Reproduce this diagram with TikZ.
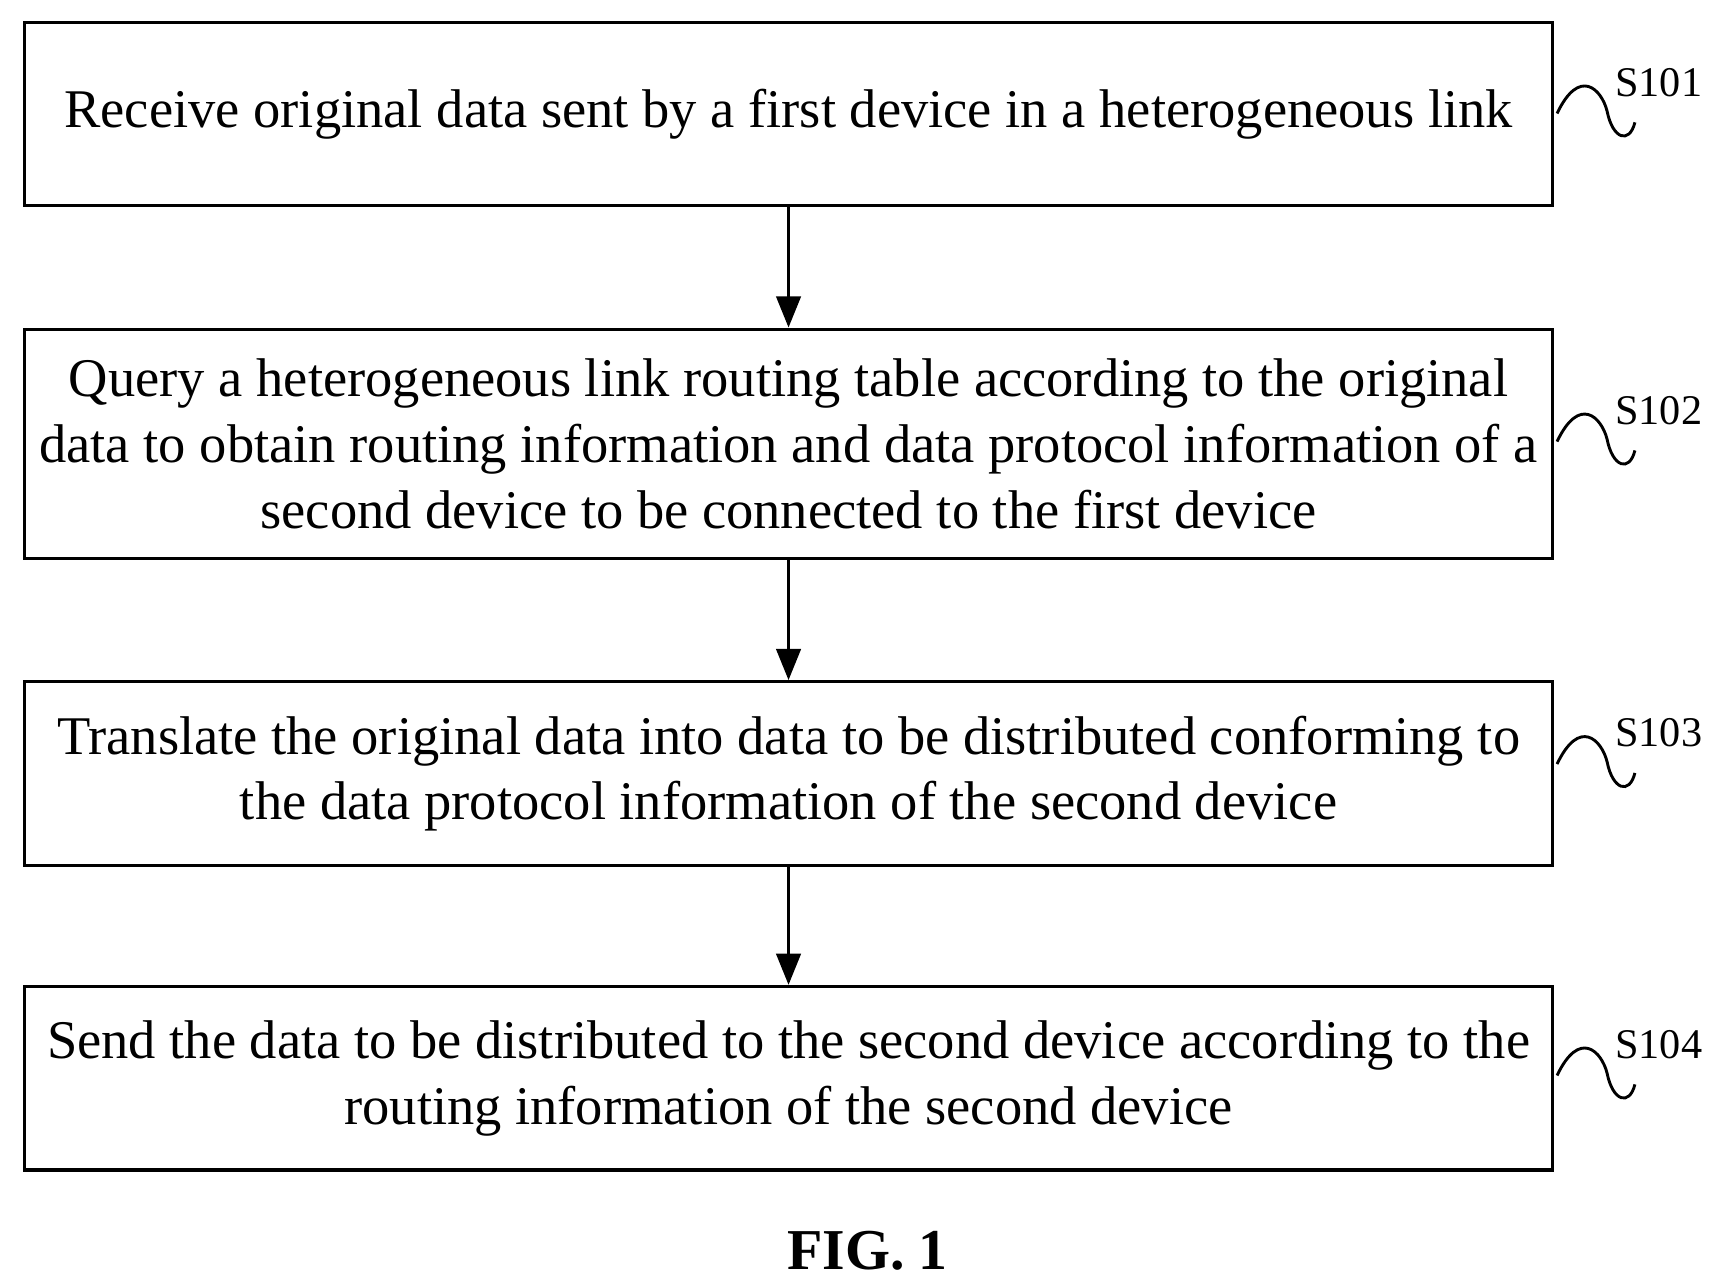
\documentclass[tikz,border=0pt]{standalone}
\usepackage{fontspec}
\setmainfont{Liberation Serif}
\usetikzlibrary{arrows.meta}
\begin{document}
\begin{tikzpicture}[x=0.5pt,y=-0.5pt,
  box/.style={draw,line width=1.5pt,minimum width=687pt,inner sep=0pt,align=center,font=\fontsize{24.5}{29.5}\selectfont},
  arr/.style={-{Triangle[length=14pt,width=11pt]},line width=1.3pt},
  lab/.style={font=\fontsize{19}{24}\selectfont,anchor=west,inner sep=0pt},
  sq/.style={line width=1.3pt}]
\useasboundingbox (0,0) rectangle (1560,1157);
\node[box,minimum height=82.5pt] (b1) at (709,102.5) {Receive original data sent by a first device in a heterogeneous link};
\node[box,minimum height=103pt] (b2) at (709,399) {Query a heterogeneous link routing table according to the original\\data to obtain routing information and data protocol information of a\\second device to be connected to the first device};
\node[box,minimum height=82.5pt] (b3) at (709,695.5) {Translate the original data into data to be distributed conforming to\\the data protocol information of the second device};
\node[box,minimum height=82.5pt] (b4) at (709,969.5) {Send the data to be distributed to the second device according to the\\routing information of the second device};
\draw[arr] (b1) -- (b2);
\draw[arr] (b2) -- (b3);
\draw[arr] (b3) -- (b4);
\foreach \b/\y/\t in {b1/90/S101,b2/385/S102,b3/675/S103,b4/955/S104}{
  \coordinate (s\t) at (1400,\y+12);
  \draw[sq] (s\t) .. controls (1420,\y-30) and (1440,\y-10) .. (1445,\y+10) .. controls (1450,\y+35) and (1465,\y+40) .. (1470,\y+20);
  \node[lab] (l\t) at (1452,\y-16) {\t};
}
\node[font=\bfseries\fontsize{26}{30}\selectfont] (fig) at (780,1125) {FIG. 1};
\end{tikzpicture}
\end{document}
